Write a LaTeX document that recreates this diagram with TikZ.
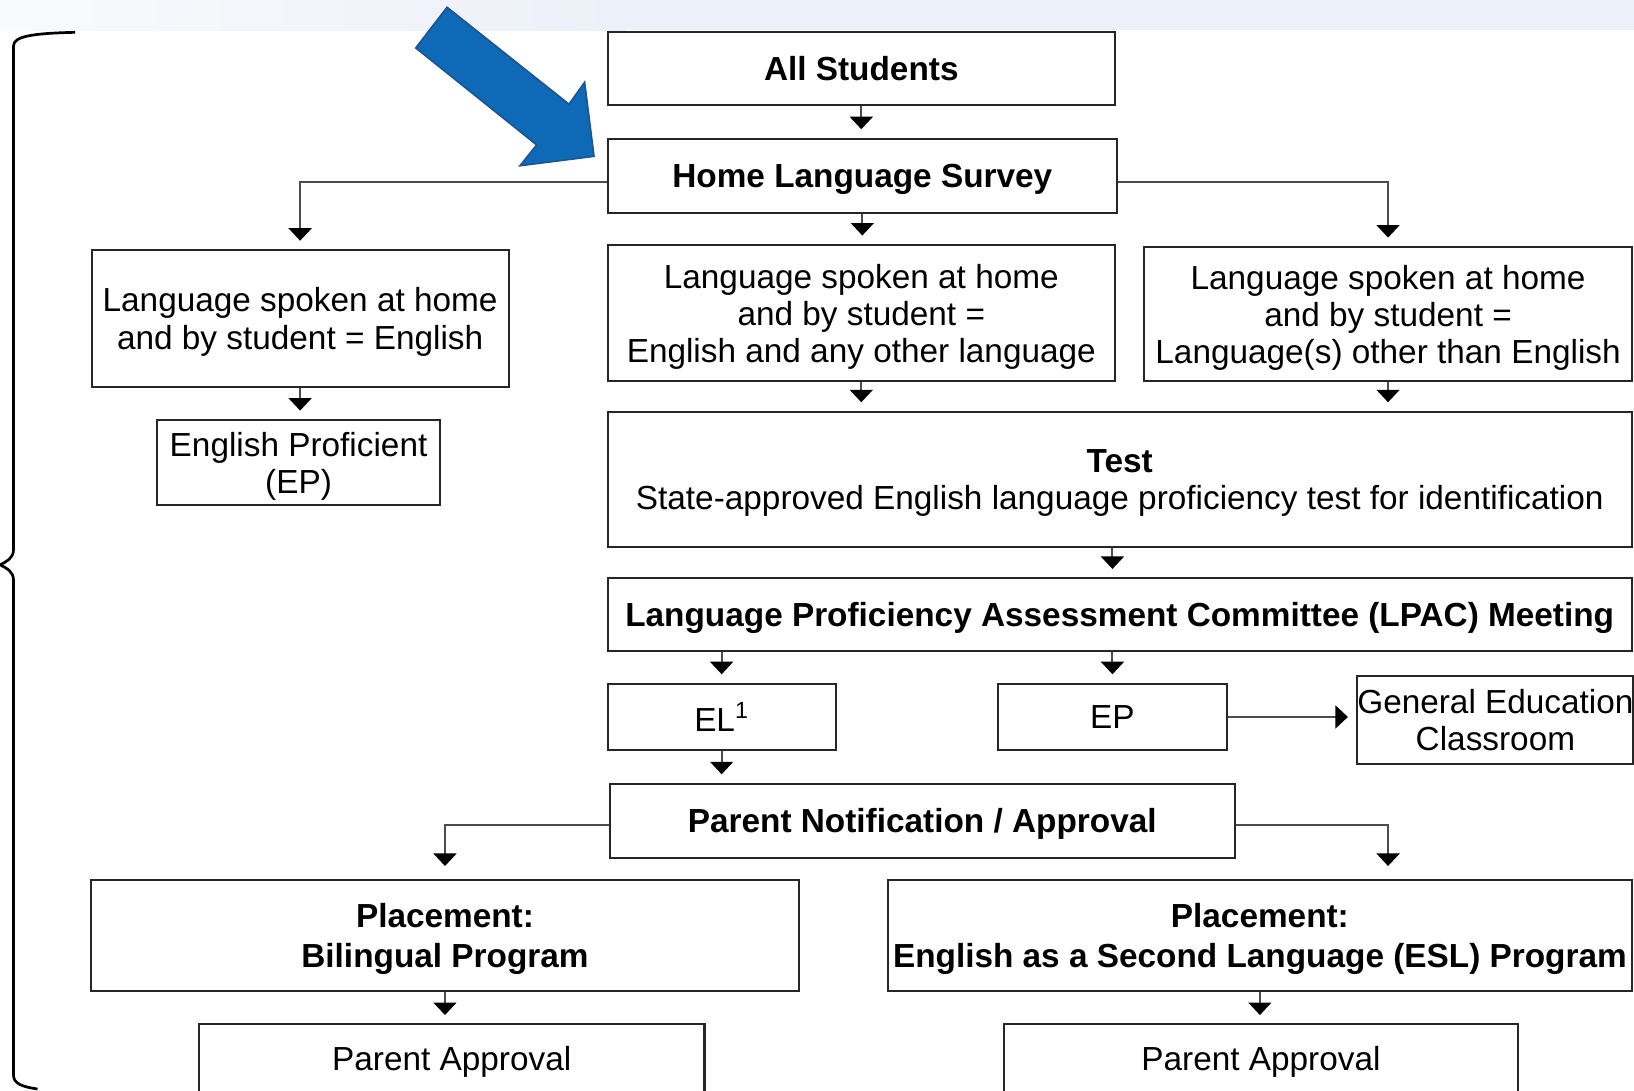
\documentclass[tikz,border=0pt]{standalone}
\usepackage{fontspec}
\setmainfont{Liberation Sans}
\usetikzlibrary{arrows.meta}
\definecolor{bandblue}{HTML}{ECF0F8}
\definecolor{bandlight}{HTML}{F9FAFD}
\definecolor{pointblue}{HTML}{0E69B6}
\definecolor{pointedge}{HTML}{1D5590}
\tikzstyle{box} = [draw=black!85, line width=1pt, inner sep=0pt, text depth=0pt, align=center, font=\fontsize{16}{17.8}\selectfont]
\tikzstyle{bbox} = [box, font=\fontsize{16}{19}\selectfont\bfseries]
\tikzstyle{flow} = [draw=black!70, line width=1pt, -{Triangle[width=11pt,length=6pt,color=black]}, shorten >=4pt]
\newcommand{\surveyside}[1]{(#1 |- 0,175)}

\begin{document}
\begin{tikzpicture}[x=0.5pt,y=-0.5pt]
	\useasboundingbox (0,0) rectangle (1568,1046);
	\fill[bandblue] (0,0) rectangle (1568,29);
	\shade[left color=bandlight, right color=bandblue] (0,0) rectangle (600,29);
	\draw[line width=1.3pt] (72,31) .. controls (30,32) and (13,35) .. (13,44) -- (13,527)
		.. controls (13,536) and (6,539) .. (0,542) .. controls (6,545) and (13,548) .. (13,557)
		-- (13,1032) .. controls (13,1040) and (22,1043) .. (36,1045);
	\filldraw[fill=pointblue, draw=pointedge, line width=0.8pt] (429,7) -- (546,100) -- (561,79)
		-- (570,150) -- (499,159) -- (515,139) -- (399,46) -- cycle;

	\node[bbox, minimum width=243.5pt, minimum height=35pt] (all) at (826.5,66) {All Students};
	\node[bbox, minimum width=244.5pt, minimum height=35.5pt] (survey) at (827.5,168.5) {Home Language Survey};
	\node[box, minimum width=200pt, minimum height=65.5pt] (eng) at (288,305.5)
		{Language spoken at home\\and by student = English};
	\node[box, minimum width=243.5pt, minimum height=65.5pt] (both) at (826.5,300.5)
		{Language spoken at home\\and by student =\\English and any other language};
	\node[box, minimum width=234pt, minimum height=64.5pt] (other) at (1332,301.5)
		{Language spoken at home\\and by student =\\Language(s) other than English};
	\node[box, minimum width=135.5pt, minimum height=41pt] (ep) at (286.5,444) {English Proficient\\(EP)};
	\node[box, minimum width=491.5pt, minimum height=65pt] (test) at (1074.5,460)
		{\textbf{Test}\\State-approved English language proficiency test for identification};
	\node[bbox, minimum width=491.5pt, minimum height=35pt] (lpac) at (1074.5,590)
		{Language Proficiency Assessment Committee (LPAC) Meeting};
	\node[box, minimum width=109.5pt, minimum height=32pt] (el) at (692.5,688) {EL\textsuperscript{1}};
	\node[box, minimum width=109.5pt, minimum height=32pt] (epb) at (1067.5,688) {EP};
	\node[box, minimum width=130pt, minimum height=42pt] (gen) at (1435,691) {General Education\\Classroom};
	\node[bbox, minimum width=300pt, minimum height=35.5pt] (notify) at (885,787.5) {Parent Notification / Approval};
	\node[bbox, minimum width=340pt, minimum height=53.5pt] (bil) at (427,897.5) {Placement:\\Bilingual Program};
	\node[bbox, minimum width=357pt, minimum height=53.5pt] (esl) at (1209,897.5)
		{Placement:\\English as a Second Language (ESL) Program};
	\node[box, minimum width=242.5pt, minimum height=33pt] (appbil) at (433.5,1016) {Parent Approval};
	\node[box, minimum width=247pt, minimum height=33pt] (appesl) at (1210,1016) {Parent Approval};

	\draw[flow] (all.south) -- (all.south |- survey.north);
	\draw[flow] (survey.south) -- (survey.south |- both.north);
	\draw[flow] \surveyside{survey.west} -| (eng.north);
	\draw[flow] \surveyside{survey.east} -| (other.north);
	\draw[flow] (eng.south) -- (eng.south |- ep.north);
	\draw[flow] (both.south) -- (both.south |- test.north);
	\draw[flow] (other.south) -- (other.south |- test.north);
	\draw[flow] (epb.north |- test.south) -- (epb.north |- lpac.north);
	\draw[flow] (el.north |- lpac.south) -- (el.north);
	\draw[flow] (epb.north |- lpac.south) -- (epb.north);
	\draw[flow] (epb.east) -- (epb.east -| gen.west);
	\draw[flow] (el.south) -- (el.south |- notify.north);
	\draw[flow, shorten >=6pt] (notify.west |- 0,792) -| (bil.north);
	\draw[flow, shorten >=6pt] (notify.east |- 0,792) -| (other.south |- esl.north);
	\draw[flow] (bil.south) -- (bil.south |- appbil.north);
	\draw[flow] (esl.south) -- (esl.south |- appesl.north);
\end{tikzpicture}
\end{document}
